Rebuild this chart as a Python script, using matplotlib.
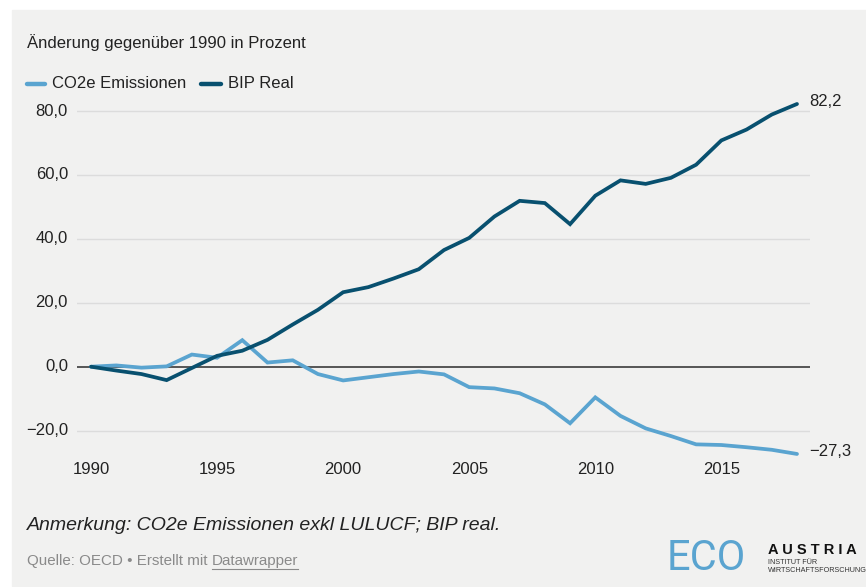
import matplotlib

matplotlib.use("Agg")
import matplotlib.pyplot as plt
from matplotlib.lines import Line2D
from matplotlib.patches import Rectangle

years = list(range(1990, 2019))
co2 = [0.0, 0.4, -0.3, 0.1, 3.8, 2.8, 8.3, 1.3, 2.0, -2.3, -4.3, -3.3, -2.3,
       -1.5, -2.4, -6.4, -6.8, -8.3, -11.8, -17.7, -9.6, -15.4, -19.3, -21.7,
       -24.3, -24.5, -25.2, -26.0, -27.3]
bip = [0.0, -1.2, -2.3, -4.2, -0.4, 3.4, 5.0, 8.4, 13.2, 17.8, 23.3, 24.9,
       27.6, 30.5, 36.5, 40.3, 47.0, 51.9, 51.2, 44.6, 53.5, 58.3, 57.2, 59.1,
       63.2, 70.8, 74.2, 78.9, 82.2]
yticks = [-20, 0, 20, 40, 60, 80]
xticks = [1990, 1995, 2000, 2005, 2010, 2015]
series_names = ["CO2e Emissionen", "BIP Real"]

C_LIGHT = "#5aa4d0"
C_DARK = "#08506f"
BG = "#f1f1f0"
W, H = 866, 587

plt.rcParams["font.family"] = ["Liberation Sans", "DejaVu Sans"]

fig = plt.figure(figsize=(W / 100, H / 100), dpi=100)
fig.patch.set_facecolor("white")


def fx(px):
    return px / W


def fy(py):
    return 1 - py / H


# gray card
fig.patches.append(Rectangle((fx(12), fy(586)), fx(866 - 12), (586 - 10) / H,
                             transform=fig.transFigure, color=BG, zorder=-10))

# axes placed in pixel space: x 77..810, y 95..460
ax = fig.add_axes([fx(77), fy(460), fx(810 - 77), (460 - 95) / H])
ax.set_facecolor("none")
x0, x1 = 1990 - 14 / 25.2, 2018 + 13 / 25.2
y_top = (366.7 - 95) / 3.196
y_bot = -(460 - 366.7) / 3.196
ax.set_xlim(x0, x1)
ax.set_ylim(y_bot, y_top)
for s in ax.spines.values():
    s.set_visible(False)
ax.set_xticks([])
ax.set_yticks([])

for t in yticks:
    if t == 0:
        ax.axhline(0, color="#555555", lw=1.4, zorder=2)
    else:
        ax.axhline(t, color="#dcdcdc", lw=1.0, zorder=1)
    ax.annotate(f"{t:.1f}".replace(".", ",").replace("-", "\u2212"),
                xy=(0, t), xycoords=("axes fraction", "data"),
                xytext=(-9, 0), textcoords="offset pixels",
                ha="right", va="center", fontsize=12, color="#222222",
                annotation_clip=False)

for t in xticks:
    ax.annotate(str(t), xy=(t, 0), xycoords=("data", "axes fraction"),
                xytext=(0, -10), textcoords="offset pixels",
                ha="center", va="center", fontsize=12, color="#222222",
                annotation_clip=False)

ax.plot(years, co2, color=C_LIGHT, lw=2.7, solid_capstyle="round",
        solid_joinstyle="miter", zorder=3)
ax.plot(years, bip, color=C_DARK, lw=2.7, solid_capstyle="round",
        solid_joinstyle="miter", zorder=4)

for vals in (bip, co2):
    ax.annotate(f"{vals[-1]:.1f}".replace(".", ",").replace("-", "\u2212"),
                xy=(years[-1], vals[-1]), xytext=(12, 2),
                textcoords="offset pixels", ha="left", va="center",
                fontsize=12, color="#222222", annotation_clip=False)

# title
fig.text(fx(27), fy(43), "Änderung gegenüber 1990 in Prozent", fontsize=12,
         color="#222222", va="center", ha="left")

# legend
for (xa, xb, xt), name, col in zip([(27, 45, 52), (201, 221, 228)],
                                   series_names, [C_LIGHT, C_DARK]):
    fig.add_artist(Line2D([fx(xa), fx(xb)], [fy(84), fy(84)], color=col,
                          lw=3.2, solid_capstyle="round",
                          transform=fig.transFigure))
    fig.text(fx(xt), fy(84), name, fontsize=12, color="#222222",
             va="center", ha="left")

# notes
fig.text(fx(27), fy(525), "Anmerkung: CO2e Emissionen exkl LULUCF; BIP real.",
         fontsize=14, style="italic", color="#222222", va="center")
q = fig.text(fx(27), fy(561), "Quelle: OECD \u2022 Erstellt mit ",
             fontsize=10.9, color="#8a8a8a", va="center")
fig.canvas.draw()
bb = q.get_window_extent()
d = fig.text(bb.x1 / W, fy(561), "Datawrapper", fontsize=10.9,
             color="#8a8a8a", va="center")
fig.canvas.draw()
db = d.get_window_extent()
fig.add_artist(Line2D([db.x0 / W, db.x1 / W], [fy(569), fy(569)],
                      color="#8a8a8a", lw=0.8, transform=fig.transFigure))

# logo
fig.text(fx(667), fy(559), "ECO", fontsize=30, color=C_LIGHT,
         family=["Roboto", "DejaVu Sans"], va="center", ha="left")
fig.text(fx(768), fy(550), "A U S T R I A", fontsize=10.5, color="#111111",
         fontweight="bold", va="center", ha="left")
fig.text(fx(768), fy(563), "INSTITUT FÜR", fontsize=5.2, color="#333333",
         va="center", ha="left")
fig.text(fx(768), fy(570), "WIRTSCHAFTSFORSCHUNG", fontsize=5.2,
         color="#333333", va="center", ha="left")

fig.savefig("out.png", dpi=100, facecolor="white")
